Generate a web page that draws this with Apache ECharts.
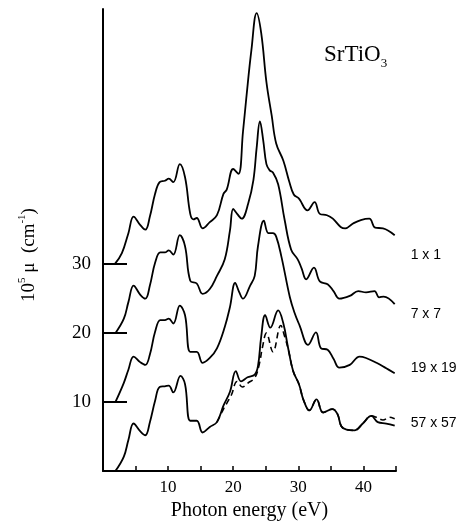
<!DOCTYPE html>
<html><head><meta charset="utf-8">
<script src="https://cdn.jsdelivr.net/npm/echarts@6/dist/echarts.min.js"></script>
<style>html,body{margin:0;padding:0;background:#fff}#c{width:471px;height:526px}</style>
</head><body><div id="c"></div>
<script>
// Curve labels and vertical offsets (10^5 mu units)
const curveNames = ['1 x 1', '7 x 7', '19 x 19', '57 x 57'];
const offsets = [30, 20, 10, 0];
const xTickLabels = [10, 20, 30, 40];
const yTickLabels = [10, 20, 30];

// 1 x 1
const e1 = [1.8,2.9,3.9,4.7,5.7,6.5,7.2,8.0,8.7,9.5,10.1,10.8,11.8,12.6,13.4,13.9,14.4,15.3,16.4,17.5,18.5,19.0,20.0,20.8,21.5,22.0,22.8,23.6,24.3,25.1,25.9,26.6,27.7,28.6,29.3,30.1,31.4,32.5,33.3,34.4,35.3,36.5,37.2,38.4,39.6,40.9,41.8,43.0,44.8];
const v1 = [0,1.6,4.5,6.9,5.7,5.0,6.9,10.2,11.9,12.1,12.4,11.9,14.5,12.6,7.3,6.5,6.7,5.2,6.1,7.1,10.2,10.8,13.8,13.1,19.2,24.0,31.1,36.4,33.5,26.4,21.6,17.5,15.0,12.0,10.1,9.5,7.8,9.0,7.3,7.1,6.6,5.4,5.2,5.9,6.4,6.6,5.3,5.2,4.2];
// 7 x 7
const e2 = [1.9,3.2,3.9,4.7,5.7,6.5,7.2,8.0,8.8,9.5,10.1,10.8,11.8,12.6,13.4,14.4,15.3,16.4,17.5,18.7,19.5,20.0,20.6,21.3,22.3,23.1,23.6,24.1,24.6,25.1,25.6,26.1,26.9,27.9,28.9,29.9,30.5,31.2,32.4,33.3,34.5,35.4,36.3,37.9,39.2,40.4,41.7,42.4,43.1,44.8];
const v2 = [0,2.1,4.5,6.9,5.6,5.0,6.9,10.2,11.7,11.7,12.0,11.4,14.2,12.6,7.6,7.2,5.7,6.4,8.3,10.7,14.9,18.0,17.3,16.6,18.8,22.2,26.9,30.7,28.0,24.5,23.6,23.3,21.6,16.4,12.1,10.7,9.4,7.8,9.5,7.5,7.1,6.1,5.0,5.4,6.1,5.9,6.1,5.2,5.3,4.2];
// 19 x 19
const e3 = [1.9,3.2,3.9,4.7,5.7,6.5,7.2,8.0,8.8,9.5,10.1,10.8,11.8,12.6,13.4,14.4,15.3,16.4,17.5,18.7,19.5,20.3,20.9,21.5,22.6,23.3,23.8,24.7,25.4,26.1,26.6,27.4,28.7,29.4,30.2,31.5,32.7,33.5,34.5,35.4,36.3,37.9,39.4,40.4,42.0,43.5,44.8];
const v3 = [0,2.8,4.7,6.6,5.8,5.4,6.9,10.2,11.9,11.9,12.1,11.4,14.0,12.6,7.3,7.3,5.7,6.4,7.8,10.9,13.8,17.3,16.0,15.0,16.9,18.3,22.6,26.3,24.5,24.5,24.0,21.1,15.2,13.0,11.1,8.3,10.1,7.8,7.6,6.3,5.0,5.4,6.6,6.4,5.7,4.9,4.2];
// 57 x 57 (solid)
const e4 = [1.9,3.2,3.9,4.7,5.7,6.5,7.2,8.0,8.7,9.5,10.1,10.8,11.9,12.6,13.4,14.4,15.3,16.4,17.5,18.5,19.5,20.4,21.2,22.2,23.3,23.8,24.3,24.9,25.7,26.9,27.7,28.4,29.2,30.1,30.8,31.7,32.8,33.8,35.2,36.0,36.6,37.4,38.6,39.9,41.2,42.2,43.5,44.8];
const v4 = [0,2.1,4.5,6.9,5.8,5.2,7.1,10.2,12.2,12.3,12.4,11.4,13.8,12.6,7.3,7.3,5.6,6.4,7.1,9.5,11.5,14.5,13.0,13.6,14.0,15.2,19.5,22.6,20.8,23.3,21.4,18.0,14.5,12.6,10.3,8.8,10.4,8.5,9.0,8.3,6.5,6.0,5.9,6.9,8.0,7.1,6.9,6.6];
// 57 x 57 (dashed)
const e5 = [17.5,18.5,19.7,20.6,21.4,22.3,23.3,24.0,24.5,25.1,26.1,27.3,27.9,28.5,29.2,30.1,30.8,31.7,32.8,33.8,35.2,36.0,36.6,37.4,38.6,39.9,41.2,42.0,43.0,44.0,44.8];
const v5 = [7.1,9.0,11.0,13.0,12.2,12.8,13.5,15.5,18.0,20.0,17.3,21.1,19.5,17.5,14.5,12.6,10.3,8.8,10.4,8.5,9.0,8.3,6.5,6.0,5.9,6.9,8.0,7.8,7.4,7.8,7.6];

const curves = [[e1, v1], [e2, v2], [e3, v3], [e4, v4]];
const serif = 'Liberation Serif';
const labelOffsets = [[11, 20], [11, 10], [11, -5], [11, -2]];

function pts(e, v, off) { return e.map((x, i) => [x, v[i] + off]); }

const series = curves.map((c, i) => ({
  name: curveNames[i], type: 'line', smooth: 0.4, symbol: 'none',
  data: pts(c[0], c[1], offsets[i]),
  lineStyle: { color: '#000', width: 1.8 },
  endLabel: { show: true, formatter: curveNames[i], color: '#000', fontFamily: 'Liberation Sans',
    fontSize: 14, offset: labelOffsets[i], distance: 5 }
}));
series.push({
  name: '57 x 57 dashed', type: 'line', smooth: 0.4, symbol: 'none',
  data: pts(e5, v5, offsets[3]),
  lineStyle: { color: '#000', width: 1.6, type: [6, 4] }
});

const chart = echarts.init(document.getElementById('c'));
chart.setOption({
  animation: false,
  backgroundColor: '#fff',
  title: {
    text: '{a|SrTiO}{b|3}', left: 319, top: 35,
    textStyle: { fontWeight: 'normal', rich: {
      a: { fontFamily: serif, fontSize: 23, fontWeight: 'normal', color: '#000', lineHeight: 30 },
      b: { fontFamily: serif, fontSize: 13, fontWeight: 'normal', color: '#000', lineHeight: 12, verticalAlign: 'bottom' }
    } }
  },
  grid: { left: 103, right: 75, top: 9, bottom: 48, containLabel: false },
  xAxis: {
    type: 'value', min: 0, max: 45, interval: 5,
    name: 'Photon energy (eV)', nameLocation: 'middle', nameGap: 28,
    nameTextStyle: { fontFamily: serif, fontSize: 20, color: '#000' },
    axisLine: { lineStyle: { color: '#000', width: 2 } },
    axisTick: { inside: true, length: 5, lineStyle: { color: '#000', width: 1.5 } },
    axisLabel: { fontFamily: serif, fontSize: 17, color: '#000', margin: 8,
      formatter: v => xTickLabels.includes(v) ? String(v) : '' },
    splitLine: { show: false }
  },
  yAxis: {
    type: 'value', min: 0, max: 67,
    name: '{a|10}{s|5}{a| μ  (cm}{s|-1}{a|)}', nameLocation: 'middle', nameGap: 62,
    nameTextStyle: { padding: [0, 30, 0, 0], rich: {
      a: { fontFamily: serif, fontSize: 19, color: '#000', lineHeight: 24 },
      s: { fontFamily: serif, fontSize: 11, color: '#000', lineHeight: 11, verticalAlign: 'top' }
    } },
    axisLine: { lineStyle: { color: '#000', width: 2 } },
    axisTick: { inside: true, length: 24, customValues: yTickLabels, lineStyle: { color: '#000', width: 2 } },
    axisLabel: { fontFamily: serif, fontSize: 19, color: '#000', margin: 12, customValues: yTickLabels },
    splitLine: { show: false }
  },
  series: series
});
</script>
</body></html>
